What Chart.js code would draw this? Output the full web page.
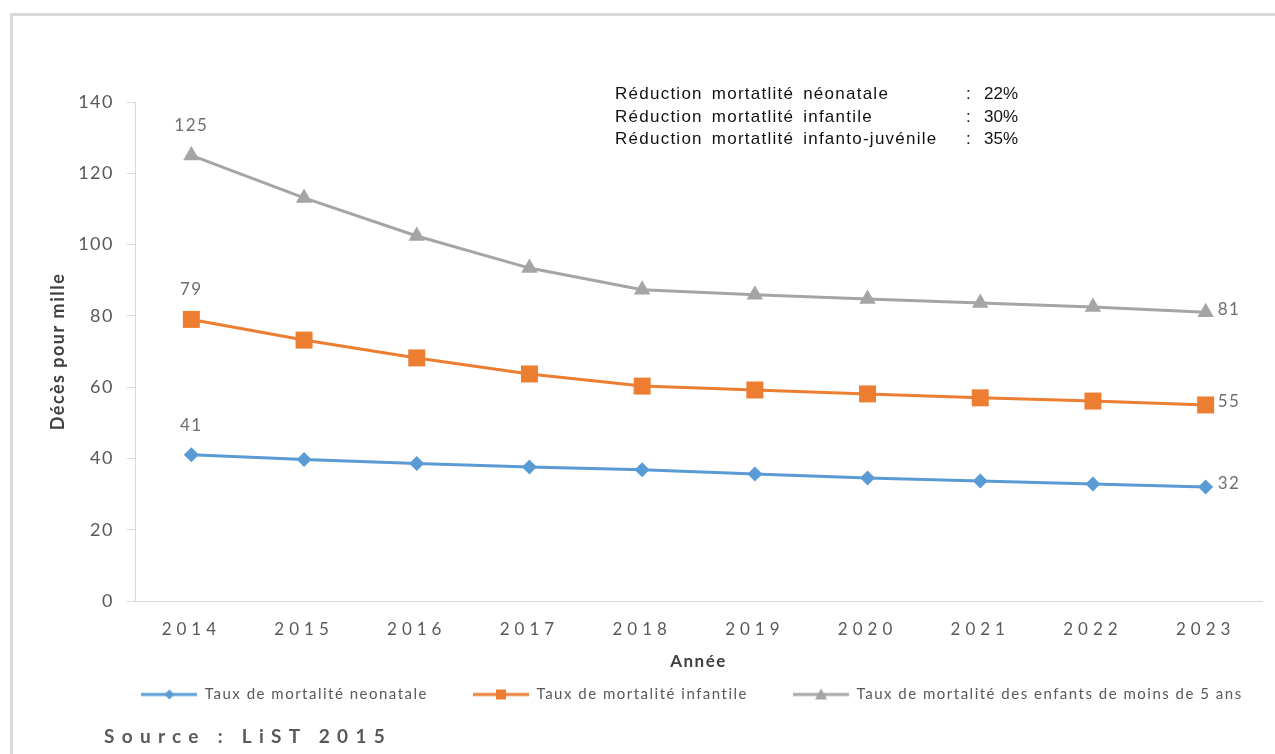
<!DOCTYPE html>
<html>
<head>
<meta charset="utf-8">
<script src="https://cdn.jsdelivr.net/npm/chart.js@4/dist/chart.umd.min.js"></script>
<style>
  body { margin: 0; background: #fff; }
  #frame { position: absolute; left: 10px; top: 13px; width: 1300px; height: 800px; border: 3px solid #d9d9d9; }
  #wrap { position: absolute; left: 0; top: 0; width: 1275px; height: 754px; }
  #note { position: absolute; left: 615px; top: 83px; font: 17px "Liberation Sans", Arial, sans-serif; color: #111; line-height: 22.5px; letter-spacing: 1.25px; word-spacing: 3px; }
  #note div { position: relative; height: 22.5px; }
  #note .c { position: absolute; left: 351px; letter-spacing: 0; }
  #note .v { position: absolute; left: 369px; letter-spacing: 0; }
  #source { position: absolute; left: 104px; top: 724px; font: bold 19px Lato, sans-serif; color: #595959; letter-spacing: 7.3px; }
</style>
</head>
<body>
<div id="frame"></div>
<div id="wrap"><canvas id="chart" width="1275" height="754"></canvas></div>
<div id="note">
  <div>Réduction mortatlité néonatale<span class="c">:</span><span class="v">22%</span></div>
  <div>Réduction mortatlité infantile<span class="c">:</span><span class="v">30%</span></div>
  <div>Réduction mortatlité infanto-juvénile<span class="c">:</span><span class="v">35%</span></div>
</div>
<div id="source">Source : LiST 2015</div>
<script>
// donnees
const years = ['2014', '2015', '2016', '2017', '2018', '2019', '2020', '2021', '2022', '2023'];
const neonatale = [41, 39.7, 38.6, 37.6, 36.8, 35.6, 34.5, 33.7, 32.8, 32];
const infantile = [79, 73.2, 68.2, 63.7, 60.3, 59.2, 58.1, 57.0, 56.1, 55];
const moins5ans = [125, 113.1, 102.4, 93.4, 87.3, 85.9, 84.7, 83.6, 82.5, 81];
const seriesNames = ['Taux de mortalité neonatale', 'Taux de mortalité infantile', 'Taux de mortalité des enfants de moins de 5 ans'];
const colors = ['#5b9bd5', '#ed7d31', '#a5a5a5'];

Chart.defaults.font.family = 'Lato, sans-serif';
Chart.defaults.color = '#595959';

// petit dessin ligne + marqueur pour la legende
function legendMark(color, shape) {
  var c = document.createElement('canvas');
  c.width = 56; c.height = 16;
  var g = c.getContext('2d');
  g.strokeStyle = color; g.lineWidth = 3;
  g.beginPath(); g.moveTo(0, 8); g.lineTo(56, 8); g.stroke();
  g.fillStyle = color;
  g.beginPath();
  if (shape == 'diamond') {
    g.moveTo(28, 3); g.lineTo(33, 8); g.lineTo(28, 13); g.lineTo(23, 8);
  } else if (shape == 'square') {
    g.rect(23, 3, 10, 10);
  } else {
    g.moveTo(28, 2); g.lineTo(34, 13); g.lineTo(22, 13);
  }
  g.closePath(); g.fill();
  return c;
}
const marks = [legendMark(colors[0], 'diamond'), legendMark(colors[1], 'square'), legendMark(colors[2], 'triangle')];

const endLabels = {
  id: 'endLabels',
  beforeLayout(chart) { chart.ctx.letterSpacing = '1.5px'; },
  afterLayout(chart) {
    // la legende est decalee vers la droite et remontee sous le titre "Année"
    var lg = chart.legend;
    lg.left += 61; lg.right += 61;
    lg.top -= 37; lg.bottom -= 37;
  },
  afterDatasetsDraw(chart) {
    var ctx = chart.ctx;
    ctx.save();
    ctx.font = '17px Lato, sans-serif';
    ctx.fillStyle = '#6e6e6e';
    chart.data.datasets.forEach(function (ds, i) {
      var pts = chart.getDatasetMeta(i).data;
      var first = pts[0], last = pts[pts.length - 1];
      ctx.textAlign = 'center'; ctx.textBaseline = 'alphabetic';
      ctx.fillText(Math.round(ds.data[0]), first.x, first.y - 24);
      ctx.textAlign = 'left'; ctx.textBaseline = 'middle';
      ctx.fillText(Math.round(ds.data[ds.data.length - 1]), last.x + 12, last.y - 3);
    });
    ctx.restore();
    // labels des annees plus espaces (dessines apres, z = 1)
    ctx.letterSpacing = '5px';
  },
  afterDraw(chart) { chart.ctx.letterSpacing = '1.5px'; }
};

new Chart(document.getElementById('chart'), {
  type: 'line',
  data: {
    labels: years,
    datasets: [
      { label: seriesNames[0], data: neonatale, borderColor: colors[0], backgroundColor: colors[0],
        borderWidth: 3, pointStyle: 'rectRot', pointRadius: 7.5, pointBorderWidth: 0 },
      { label: seriesNames[1], data: infantile, borderColor: colors[1], backgroundColor: colors[1],
        borderWidth: 3, pointStyle: 'rect', pointRadius: 12, pointBorderWidth: 0 },
      { label: seriesNames[2], data: moins5ans, borderColor: colors[2], backgroundColor: colors[2],
        borderWidth: 3, pointStyle: 'triangle', pointRadius: 9.5, pointBorderWidth: 0 }
    ]
  },
  options: {
    responsive: false,
    animation: false,
    layout: { padding: { left: 0, top: 102, right: 13, bottom: 5 } },
    plugins: {
      tooltip: { enabled: false },
      legend: {
        position: 'bottom',
        labels: {
          usePointStyle: true,
          pointStyleWidth: 56,
          padding: 45,
          color: '#595959',
          font: { size: 15 },
          generateLabels: function (chart) {
            return Chart.defaults.plugins.legend.labels.generateLabels(chart).map(function (item, i) {
              item.pointStyle = marks[i];
              return item;
            });
          }
        }
      }
    },
    scales: {
      x: {
        offset: true,
        grid: { display: false, drawTicks: false },
        border: { display: true, color: '#d9d9d9', width: 1 },
        ticks: { padding: 18, font: { size: 17 }, color: '#595959', z: 1 },
        title: { display: true, text: 'Année', color: '#404040', font: { size: 17, weight: 'bold' }, padding: { top: 4, bottom: 7 } },
        afterFit: function (scale) { scale.height = 78; }
      },
      y: {
        min: 0, max: 140,
        ticks: { stepSize: 20, padding: 13, font: { size: 18 }, color: '#595959' },
        grid: { drawOnChartArea: false, drawTicks: true, tickLength: 8, color: '#d9d9d9' },
        border: { display: true, color: '#d9d9d9', width: 1 },
        title: { display: true, text: 'Décès pour mille', color: '#404040', font: { size: 18, weight: 'bold' }, padding: { top: 47, bottom: 0 } },
        afterFit: function (scale) { scale.width = 135; }
      }
    }
  },
  plugins: [endLabels]
});
</script>
</body>
</html>
